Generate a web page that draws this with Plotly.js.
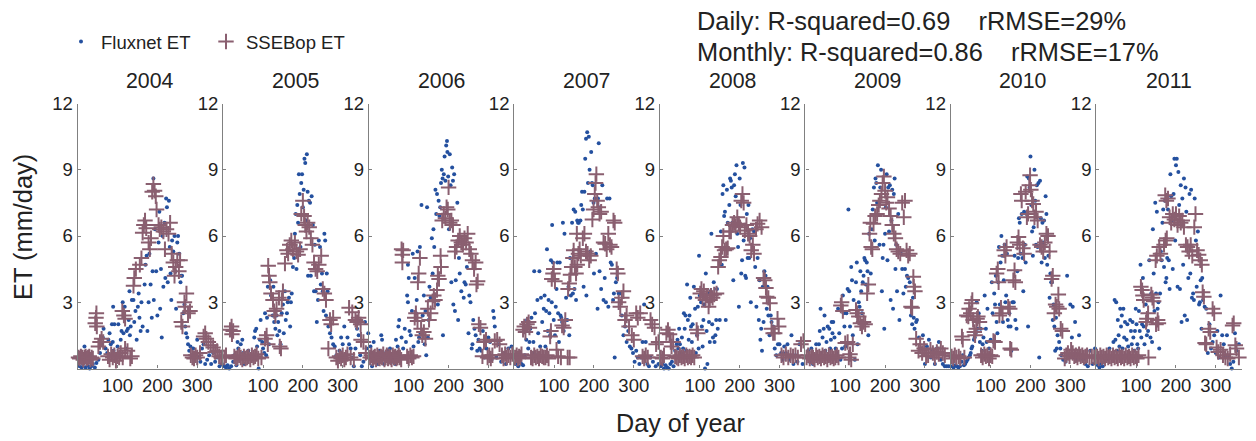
<!DOCTYPE html>
<html><head><meta charset="utf-8">
<script src="https://cdn.plot.ly/plotly-3.0.1.min.js"></script>
<style>html,body{margin:0;padding:0;background:#fff}</style></head>
<body><div id="c" style="width:1256px;height:441px"></div>
<script>
const years=[2004,2005,2006,2007,2008,2009,2010,2011];
const dayTicks=[100,200,300];
const etTicks=[3,6,9,12];
const flux2004=[[5,.1],[10,.05],[14,.2],[17,1],[20,.05],[25,.15],[30,0],[34,.1],[38,.2],[43,.05],[47,.25],[52,.4],[56,.7],[60,1.1],[63,1.4],[65,1.8],[70,.9],[74,.7],[77,1.3],[80,1.6],[83,1.1],[86,2],[88,1.2],[90,.8],[92,2],[89,2.8],[96,.6],[100,1],[102,2],[105,.7],[108,1.3],[110,1.7],[113,3],[115,1.6],[118,2.8],[121,.9],[123,1.7],[126,1.8],[128,2.2],[131,1.5],[133,1.9],[130,3.5],[136,3.1],[140,3.1],[142,2.1],[145,2.6],[148,1.3],[151,2.8],[153,3.4],[155,2.3],[158,1.7],[160,3],[163,1.9],[168,3.8],[170,4.7],[173,5.1],[175,1.7],[178,3],[180,5.2],[183,3.8],[186,2.3],[188,4.4],[191,3.1],[190,8.6],[194,6.3],[197,4.4],[200,2.4],[203,5.7],[205,7.1],[207,2.7],[209,4.5],[211,1.4],[213,6],[215,3.7],[218,6.6],[220,4.1],[222,7.7],[224,7.3],[226,3.9],[229,7.6],[231,5.5],[233,4.3],[235,3.1],[237,5.8],[240,5.3],[243,6],[245,4.4],[247,2.7],[250,5.7],[252,6],[255,5.2],[258,3.9],[260,4.2],[262,4.2],[265,2.5],[268,2.9],[270,1.9],[272,1.6],[275,1.4],[277,1.1],[280,.8],[283,1],[286,.6],[290,.9],[295,.7],[300,1.3],[303,.5],[308,.3],[312,.9],[316,1.1],[320,.2],[325,.4],[330,.6],[335,.2],[340,.7],[345,.3],[350,.5],[356,.1],[362,.2]];
const sse2004=[[2,.5],[5,.45],[8,.55],[11,.5],[14,.4],[17,.5],[20,.55],[23,.45],[26,.5],[29,.55],[32,.4],[35,.5],[38,.45],[44,2.05],[46,2.3],[47,2.5],[48,1.9],[52,1],[56,1.2],[60,1.35],[64,1.2],[76,.55],[80,.4],[84,.65],[88,.5],[92,.6],[96,.35],[100,.55],[104,.5],[108,.7],[113,.5],[112,2.6],[116,2.4],[119,2.25],[119,.9],[125,.8],[132,.45],[136,.55],[140,3.75],[142,4.1],[146,4.5],[156,4.7],[160,5],[163,6.15],[166,6.5],[169,6.7],[172,6.35],[178,5.7],[181,5.4],[184,5.9],[187,8],[190,8.35],[193,8.05],[196,7.8],[198,7.2],[203,6.5],[206,6.3],[210,6.4],[215,6.2],[219,5.4],[223,6.3],[228,6.1],[232,6.6],[236,5.2],[240,4.8],[243,4.2],[246,4.6],[250,4.9],[254,4.4],[257,4.9],[260,2.1],[263,1.9],[268,3],[270,2.8],[273,3.4],[277,2.5],[282,2.6],[284,.6],[288,.5],[292,.45],[296,.6],[300,.5],[307,.7],[316,1.45],[320,1.6],[323,1.35],[328,1.2],[334,1.05],[340,.95],[345,.75],[350,.8],[355,.55],[360,.5]];
const flux2005=[[3,.1],[7,.05],[11,.15],[15,0],[20,.1],[25,.3],[28,.6],[33,.15],[36,1.2],[38,.9],[41,.4],[44,1.1],[48,1.3],[50,.7],[53,.2],[60,.5],[63,.8],[70,.4],[78,1.4],[80,1.7],[83,1.8],[85,1],[87,.5],[89,0],[92,1.3],[94,2.2],[98,1.2],[100,.9],[103,.7],[105,2.5],[108,.6],[110,2.3],[112,3.7],[115,1.1],[118,4],[120,3.3],[124,2.4],[126,3.7],[128,2.1],[131,1.8],[134,2.4],[136,1.5],[138,2.1],[141,1.7],[144,1.1],[147,2.5],[150,2.9],[152,1.6],[155,3.5],[157,2.2],[160,2.5],[162,3],[165,3.2],[168,1.9],[170,3],[172,3.4],[175,4.6],[178,5],[180,6.1],[182,7],[184,4.5],[186,7.4],[188,6.6],[190,8.8],[192,7.9],[194,5.5],[196,8.4],[198,8.8],[200,7.3],[202,8.1],[204,9.5],[206,9.3],[208,6.7],[210,9.7],[212,8],[213,4.2],[215,7.6],[218,7.5],[220,4.2],[222,7.8],[225,6.5],[228,3.5],[230,5.6],[232,3.5],[235,2.1],[238,3.1],[240,5.8],[243,5.5],[245,3.8],[248,4.3],[250,3.5],[252,2.6],[254,6.1],[256,5.8],[258,2.4],[260,4.3],[262,3.5],[264,1.9],[268,1.6],[272,1.4],[276,1.1],[280,1],[284,.6],[288,.4],[292,.8],[296,1.4],[300,1.1],[304,1.9],[308,.6],[312,1.4],[316,1.1],[320,.9],[324,.5],[328,.1],[332,.9],[336,1.8],[340,1.5],[344,.6],[348,.1],[352,.3],[356,2.1],[360,.9],[364,1.6]];
const sse2005=[[3,.5],[7,.6],[17,1.75],[21,1.9],[22,1.55],[25,1.7],[28,.55],[32,.45],[36,.5],[40,.6],[44,.5],[48,.4],[52,.55],[56,.45],[60,.5],[64,.55],[68,.4],[72,.6],[76,.5],[80,.55],[84,.65],[88,.45],[96,.5],[105,1.35],[109,1.5],[112,1.1],[113,4.65],[115,4.2],[117,3.9],[120,3.4],[125,3.1],[128,2.6],[131,2.4],[134,2.7],[140,3.2],[142,1],[145,.9],[147,3.1],[150,3.5],[155,4.75],[160,5.35],[163,5.2],[167,5.6],[171,5.8],[175,5.4],[180,5.7],[184,5.3],[188,5.15],[193,5.4],[196,7],[200,7.6],[203,6.9],[206,6.5],[209,6.2],[212,6.6],[216,6.4],[220,5.9],[224,5.6],[228,4.8],[232,4.5],[236,4.4],[240,4.7],[246,5.1],[250,3.6],[254,3.4],[258,3.1],[264,.9],[268,2.2],[271,2],[276,2.3],[284,.5],[288,.35],[292,.55],[296,.45],[300,.6],[304,.4],[308,.5],[312,.65],[316,2.75],[320,.5],[324,2.55],[328,.4],[332,2.2],[336,2.1],[340,2.3],[345,2],[346,1.3],[352,1.2],[358,.7]];
const flux2006=[[4,1],[8,.1],[12,1.2],[15,.3],[19,.5],[23,.2],[27,.8],[31,1.5],[33,1.3],[36,.7],[38,.2],[42,.4],[46,.8],[50,.5],[53,.9],[58,.3],[62,.7],[66,.2],[68,1.3],[72,1],[74,1.9],[76,2.2],[79,.6],[82,1.4],[86,.9],[90,1.8],[93,1.2],[96,3.3],[98,3],[100,4.1],[98,4.7],[102,1.7],[105,1.5],[108,2.6],[110,5.2],[112,1],[115,4.1],[118,2.5],[120,3.1],[122,5.3],[124,1.2],[126,1.4],[128,5.5],[130,1.6],[132,7.4],[135,2.4],[138,3.3],[140,1.1],[142,2.6],[144,.6],[146,7.3],[148,1.4],[150,2.2],[152,3.7],[155,3.2],[158,5.9],[160,4.3],[162,6.3],[164,5.5],[167,8.1],[169,7],[171,7.9],[173,2.9],[175,7.6],[177,6.9],[179,7.3],[181,8.4],[183,9],[185,8.6],[186,1.5],[188,8.8],[190,9.6],[192,8.5],[194,10.1],[196,10.3],[197,9.8],[199,8.7],[201,6.3],[203,9.7],[205,8.3],[207,3.9],[209,9.1],[211,8.5],[212,2.9],[214,8.8],[216,2.6],[218,4],[222,7.5],[224,2.2],[226,5],[228,4.3],[232,3.5],[235,5.7],[238,3.2],[240,3.9],[243,3.8],[246,4.6],[250,1.6],[252,3.3],[255,3],[258,.9],[260,1.1],[262,2.2],[265,1.8],[268,1.5],[272,.8],[275,1.3],[278,.9],[282,.8],[286,1.7],[290,.5],[295,.9],[300,1.4],[304,1.2],[308,.4],[312,2.6],[314,2.3],[316,1.9],[320,.5],[326,1.1],[332,.3],[338,.7],[344,.2],[350,.9],[358,1]];
const sse2006=[[3,.5],[6,.6],[9,.45],[12,.5],[15,.55],[18,.4],[21,.6],[24,.5],[27,.45],[30,.55],[33,.5],[36,.65],[39,.4],[42,.5],[45,.6],[48,.45],[51,.55],[54,.5],[57,.4],[60,.6],[63,.5],[66,.55],[69,.45],[72,.5],[75,.6],[78,.5],[81,.4],[82,5.4],[84,5.15],[84,4.8],[86,5.35],[96,.55],[100,.45],[104,.6],[108,.5],[112,.55],[115,2.3],[118,2.5],[122,2.15],[123,3.9],[125,4.3],[128,5],[131,1.8],[134,1.5],[138,1.65],[142,1.35],[148,2.7],[151,2.2],[155,2.5],[160,3.05],[163,3.3],[166,3.1],[171,3.55],[173,4.2],[176,4.05],[180,5.1],[181,4.6],[184,6.7],[188,7],[192,6.8],[195,7.3],[198,7.2],[200,8.2],[203,6.6],[207,6.7],[211,6.5],[216,5.3],[220,5.5],[224,5.8],[228,6],[232,5.7],[236,5.6],[240,5.9],[244,5.7],[248,6.1],[252,5.4],[256,5.2],[260,4.9],[264,4.5],[268,4.8],[270,3.8],[273,3.95],[276,2],[280,1.85],[285,.55],[289,1.2],[294,1.3],[298,.5],[302,.6],[306,.45],[310,.6],[316,1.25],[322,1.3],[328,1.1],[334,.6],[338,.45],[342,.65],[346,.5],[350,.6],[355,.5],[360,.65]];
const flux2007=[[3,.2],[6,.5],[10,.1],[14,.3],[18,.2],[22,.15],[26,.6],[30,1.3],[32,2.2],[35,.9],[38,1.2],[40,1.8],[43,2.3],[46,.7],[48,1.2],[50,4.4],[52,2.5],[55,.6],[58,3.1],[60,1.6],[63,4.4],[65,1],[67,3.2],[70,2.1],[72,.5],[74,2.7],[76,3.3],[78,1],[80,2.6],[82,5.4],[84,1.7],[86,3.1],[88,2.5],[90,1.5],[92,4.9],[94,3],[95,6.5],[97,4.8],[99,2.2],[102,1.5],[104,2.8],[106,3.6],[108,4.8],[110,2.5],[112,1.2],[114,4.8],[116,2.4],[118,2.3],[120,2.1],[122,6.6],[124,1.7],[126,6.1],[128,2.2],[130,3.2],[133,2.2],[136,3.7],[138,1.5],[140,5],[142,3.3],[145,6.6],[147,3.4],[149,7.2],[151,3.6],[153,7.1],[155,3.1],[158,6.7],[160,6.6],[162,6.6],[164,5.3],[166,6.7],[168,7.4],[170,8],[172,7.2],[174,3.7],[176,8],[178,9.5],[180,10.4],[181,3.3],[183,10.7],[185,8.4],[187,10.5],[189,9],[191,5.3],[193,9.8],[195,8.4],[197,8.3],[199,7.5],[200,4.3],[202,7.7],[205,5.2],[209,2.7],[210,7.7],[212,10.2],[214,4.4],[216,7.3],[218,3.6],[221,8.3],[224,3.1],[227,4.1],[230,3],[233,7.7],[236,2.8],[239,7.7],[242,4.8],[245,4.7],[248,3.1],[250,3.4],[252,.5],[255,3.9],[258,4.1],[262,3.4],[265,3.4],[270,2.4],[274,1.5],[278,1.9],[282,1.2],[286,1.7],[290,1],[294,.9],[298,.7],[302,.3],[306,.8],[310,.5],[314,.2],[318,.5],[322,1.2],[326,2.9],[330,1.2],[334,.2],[338,.1],[342,.5],[348,.3],[355,.1],[362,.2]];
const sse2007=[[2,.5],[6,.6],[9,.45],[12,.55],[15,.5],[18,.65],[22,1.75],[25,1.9],[28,1.65],[32,2],[36,2.1],[38,1.85],[42,.5],[46,.45],[50,.6],[54,.5],[58,.55],[62,.45],[66,.6],[70,.55],[74,.5],[78,.5],[82,.6],[86,.45],[90,1.45],[92,1.7],[94,4.05],[97,4.3],[99,4.5],[102,3.95],[106,.85],[110,.55],[117,.5],[120,1.95],[124,1.85],[128,2.2],[134,.5],[139,.5],[135,3.6],[138,3.85],[141,4.25],[144,4.6],[147,5],[149,5.35],[152,4.6],[155,4.3],[158,4.7],[157,6.1],[161,5.2],[164,5.4],[167,5.1],[172,5.9],[176,6.1],[180,5.3],[184,5.2],[188,4.9],[192,5.1],[196,6.75],[199,7.2],[202,7.9],[204,8.4],[206,8.8],[208,7.6],[211,7.3],[214,7],[218,7.1],[224,5.7],[228,5.65],[232,5.4],[236,6.1],[240,5.6],[244,5.5],[249,6.7],[252,6.6],[257,4.5],[260,4.3],[262,3],[266,2.8],[270,3.2],[274,3.5],[278,2.2],[282,2.4],[288,1.9],[295,1.5],[300,1.3],[306,2.5],[310,2.3],[316,2.5],[322,.55],[326,.45],[330,.6],[335,.5],[342,2.2],[346,2],[352,1.85],[356,1.1],[362,1.2]];
const flux2008=[[2,.1],[6,.2],[10,0],[14,.15],[18,.05],[22,0],[26,.2],[30,.3],[34,.1],[38,.8],[42,1.1],[44,1.3],[46,.9],[48,1.8],[50,1.1],[53,.7],[55,1.4],[58,.9],[60,2.5],[62,1.8],[64,2.4],[66,.8],[68,3.8],[70,2.2],[72,1.3],[74,2.4],[76,3.2],[78,1.9],[80,1.2],[82,2],[85,3.7],[88,2.7],[90,.7],[93,1.5],[95,2.8],[97,.9],[98,5.1],[100,3.3],[103,3],[105,1.9],[107,1],[109,2.2],[111,2.9],[113,0],[115,4.3],[117,1.7],[119,.2],[121,3.4],[123,2.1],[125,1.2],[127,3.5],[129,6.1],[131,2],[133,1.4],[135,3.9],[137,1.2],[139,1.5],[141,2.2],[143,3.6],[145,1.8],[150,2.2],[153,6.2],[155,4.7],[157,7.9],[159,8.3],[161,6.9],[163,7.1],[165,2.2],[168,8.1],[170,6.6],[172,5.4],[174,7.4],[176,8.6],[178,8.5],[180,8.2],[182,6.6],[184,4],[186,8.3],[188,8.8],[190,7.8],[192,9.2],[194,6.1],[196,5.5],[198,2.8],[200,8.6],[202,7.4],[204,4.3],[206,4.9],[208,9.3],[210,5.8],[212,9.1],[214,4.2],[216,4.1],[218,7],[220,5],[222,7.4],[224,5],[226,5.9],[228,3],[232,6.3],[236,6.2],[239,4.6],[242,2.8],[245,5],[248,2.2],[250,4],[252,1.3],[254,1.8],[256,.8],[258,3.7],[260,2.1],[262,4.4],[265,4.2],[268,2.7],[270,3.7],[272,2.4],[275,1.5],[278,2.4],[280,2.1],[284,1.9],[288,.9],[292,.6],[296,1.1],[300,1.1],[304,.7],[308,.4],[312,1],[316,.7],[320,1.1],[325,.4],[330,1.5],[335,.2],[340,.6],[345,.3],[350,1.1],[358,.2]];
const sse2008=[[2,.5],[6,.45],[10,.6],[16,1.6],[20,1.75],[24,1.55],[27,1.2],[29,1],[33,1.2],[38,.55],[42,.5],[46,.45],[50,.6],[54,.5],[58,.55],[62,.45],[66,.6],[70,.5],[74,.55],[78,.5],[82,.6],[86,.5],[92,1.75],[95,1.6],[101,3.4],[104,3.6],[107,3.2],[110,3.5],[114,3.1],[118,3.3],[122,2.8],[125,3.1],[128,3.3],[132,3.2],[136,3.35],[142,3.4],[146,4.6],[149,4.9],[153,5.05],[156,5.5],[159,6],[162,5.35],[166,5.4],[170,5.45],[174,6.2],[178,6.2],[182,6.5],[186,6.6],[190,6.45],[194,6.85],[198,6.55],[201,6.4],[204,7.6],[207,7.9],[210,7.5],[213,6.25],[217,6.5],[221,6.1],[225,6],[229,5.35],[233,5.6],[236,5.2],[241,6.3],[245,6.55],[250,6.7],[255,6.4],[260,4.1],[263,4],[266,3.65],[268,3.25],[272,3.2],[276,2.95],[280,1.8],[284,1.6],[288,1.6],[295,2.25],[298,1.9],[305,.6],[310,.5],[316,.65],[322,.5],[328,.6],[334,.55],[340,.6],[346,.5],[354,1.1],[360,1.25]];
const flux2009=[[3,.5],[7,.8],[11,.3],[15,.9],[19,.2],[23,.6],[27,1.1],[30,.4],[34,1.1],[36,1.7],[38,2.7],[40,.7],[43,1.4],[46,1.8],[48,2.4],[50,.8],[53,1.2],[56,1.9],[58,.4],[60,1.8],[62,.9],[64,1.3],[66,2.1],[68,1.6],[70,2.1],[73,1.4],[76,.9],[79,.7],[82,2.7],[85,1.6],[88,.4],[92,.9],[94,3.3],[96,2.5],[98,1.9],[100,1],[103,2.5],[106,3.6],[108,7.2],[110,3.5],[112,1.9],[115,4.6],[117,4],[119,1.5],[121,3.1],[124,.4],[127,3.9],[129,4.8],[131,1.1],[134,3],[136,2.8],[138,4.4],[140,3.5],[142,2.5],[144,3.9],[146,4.2],[148,5],[150,4.9],[152,3.8],[154,4.8],[156,4.4],[158,1.5],[160,6.1],[164,4.3],[167,6.3],[169,7.2],[172,8.2],[174,5.8],[176,8.6],[178,8.4],[180,7.5],[182,9.2],[184,7.5],[186,5.6],[188,8.2],[190,9],[192,3.5],[194,5],[196,5.6],[198,1.8],[200,6.1],[202,7.3],[204,8.8],[206,4.9],[208,8.2],[210,6.2],[212,8.3],[214,3.1],[216,6.7],[218,8.1],[220,2.7],[222,7.9],[224,8.6],[226,4.5],[228,5.6],[230,3.5],[233,7],[236,2.2],[240,5.2],[243,4.5],[246,3.4],[250,4.5],[252,3.7],[255,4.2],[258,4.1],[262,3.9],[265,2.4],[268,2],[270,3.2],[272,2.3],[274,1.8],[278,2.1],[280,2.2],[285,1.4],[290,.9],[295,1.5],[300,.2],[305,1],[310,1.3],[315,.5],[320,.8],[325,.2],[330,.9],[335,1.2],[340,.4],[345,.2],[350,.1],[355,.1],[360,.1]];
const sse2009=[[3,.5],[7,.6],[11,.45],[15,.55],[19,.5],[23,.4],[27,.6],[31,.5],[35,.55],[39,.45],[43,.6],[47,.5],[51,.55],[55,.4],[59,.6],[63,.5],[67,.55],[71,.45],[75,.5],[79,.6],[83,.5],[89,2.85],[91,3],[94,2.6],[100,1.15],[106,1.2],[109,.5],[112,.65],[115,.4],[119,1.1],[127,2.65],[130,2.5],[134,2.35],[138,2.05],[142,1.9],[146,2.1],[150,2],[155,3.4],[158,3.8],[161,6.1],[163,6.6],[165,5.5],[168,5.4],[171,6.55],[175,6.9],[180,7],[184,7.4],[187,7.6],[191,7.9],[194,8.4],[197,8.7],[200,8.05],[203,7.5],[206,7.75],[210,7.25],[214,6.9],[218,6.5],[222,6.1],[226,5.9],[229,5.4],[233,5.3],[238,5.2],[243,7.5],[247,6.85],[250,7.6],[254,5.35],[258,5.1],[262,5.2],[265,2.8],[268,2.75],[271,4.15],[272,3.7],[275,3.5],[278,1.35],[284,.8],[288,1.1],[293,.7],[298,.9],[303,.55],[308,.6],[314,.85],[320,.7],[325,.5],[330,.75],[335,.65],[340,.9],[345,.7],[350,.6]];
const flux2010=[[3,.1],[7,.05],[11,.15],[15,.1],[19,.05],[23,.1],[27,.3],[30,.6],[33,.15],[36,.2],[39,.3],[42,.4],[45,.5],[48,.6],[50,.7],[52,.9],[54,1],[58,1.3],[60,1.4],[62,1.6],[65,3],[67,1.8],[70,2.5],[73,1.2],[75,1.8],[78,.8],[80,1.1],[82,1.4],[85,3.3],[88,1.8],[90,1.2],[92,2.7],[96,.9],[100,1.3],[103,3.9],[105,2.5],[107,1.2],[109,3.4],[111,2.9],[113,4.2],[115,2.1],[117,1.6],[119,3.9],[121,5.5],[123,2.9],[125,4.8],[127,6],[129,5.1],[131,2.1],[133,4],[135,5.6],[137,3],[139,3.3],[141,5.2],[143,2.2],[145,1.9],[147,2.5],[150,1.9],[152,.8],[155,3],[158,3],[160,5.1],[162,2.2],[165,1.8],[167,4.4],[169,5],[171,6.8],[173,6.6],[175,5.2],[178,7],[180,5],[182,3.5],[184,7.1],[186,5.6],[188,4.8],[190,7],[192,8.7],[194,1.9],[196,8.6],[198,8.2],[200,9.6],[202,7.4],[204,6.2],[206,5.1],[208,6.4],[210,9],[212,7.6],[214,5.6],[216,8.3],[218,5.5],[220,8.4],[222,.5],[224,8.5],[226,6.8],[228,4.8],[230,6.6],[232,5.7],[234,6.7],[236,5],[238,7.8],[240,7],[242,4.7],[245,5.1],[248,3.2],[250,4.3],[252,3.9],[254,3.9],[256,2.2],[258,2.9],[260,1.9],[262,.8],[264,2.3],[266,.9],[268,1.5],[272,1.2],[275,.9],[278,.6],[282,.4],[288,.3],[292,4.2],[296,.6],[300,2.9],[304,1.4],[306,2.8],[310,.5],[312,2.1],[316,.4],[322,1.5],[326,.6],[332,.4],[338,.2],[344,.1],[350,.8],[356,.2],[362,.9]];
const sse2010=[[2,.55],[6,.45],[10,.6],[14,.5],[20,.55],[24,.45],[28,1.45],[30,1.3],[34,.5],[40,2.4],[44,2.35],[46,2.7],[50,2.5],[52,2.95],[54,3.1],[56,2.2],[59,1.65],[61,1.5],[64,1.8],[66,2.25],[68,2.35],[72,2.1],[76,.6],[80,.5],[84,.65],[88,.55],[92,.6],[96,.45],[100,.6],[104,.55],[107,1.25],[111,1.2],[115,4.3],[118,4.5],[120,3.9],[122,2.4],[126,2.75],[130,2.5],[134,5.35],[137,5.1],[140,5.5],[144,2.8],[148,2.7],[149,.9],[152,.85],[157,4],[160,4.45],[162,3.9],[167,5.7],[170,5.95],[173,5.6],[176,7.9],[178,7.6],[181,5.45],[184,5.2],[188,8],[191,6.85],[194,7],[197,8.3],[199,8.75],[201,8.1],[204,7.6],[207,7.45],[210,6.85],[214,7.1],[218,6.7],[224,5.6],[228,5.5],[232,5.3],[236,5.7],[240,6.1],[244,6],[248,5.3],[253,4.05],[256,4.2],[260,2.5],[263,2.9],[266,2.8],[270,3.35],[272,2.7],[276,1.8],[280,1.7],[286,.45],[290,.6],[294,.7],[298,.55],[302,.85],[306,.7],[310,.55],[314,.6],[318,.5],[322,.65],[326,.55],[330,.6],[334,.5],[338,.55],[342,.6],[348,.5],[354,.55],[360,.5]];
const flux2011=[[4,.15],[8,.05],[12,.2],[16,.1],[20,.3],[25,.4],[30,.6],[33,.9],[38,.5],[43,1.2],[46,3.1],[48,1.3],[50,3],[52,.8],[54,2.2],[56,1.5],[58,1],[60,2.7],[62,1.9],[64,2.4],[66,.9],[68,2.7],[70,1.4],[72,2.1],[74,.6],[76,1.3],[78,2],[80,1],[82,.7],[85,2.2],[87,1.7],[89,1.1],[91,2.1],[93,1.4],[95,.8],[97,1.7],[99,2.7],[101,2],[103,1.1],[105,.9],[107,2.6],[109,1.7],[111,4.7],[113,1.4],[115,2],[117,4.1],[119,1.9],[121,1.1],[124,2.9],[127,1.5],[130,1.7],[133,4.9],[136,1.4],[138,3.4],[140,1.2],[142,6.3],[144,4.3],[146,2.6],[148,7.5],[150,3.4],[152,7.1],[154,2.7],[156,3],[158,.9],[160,3.4],[162,5.3],[164,4.9],[166,6.6],[168,7.2],[170,4.6],[172,7.6],[174,3.9],[176,4.1],[178,5],[180,7.2],[182,4.9],[184,3.6],[186,8.8],[188,7.8],[190,6.7],[192,4.5],[194,7.9],[196,9.5],[198,5.8],[200,9.2],[202,9.5],[204,3.7],[206,8.9],[208,7.4],[210,3.6],[212,8.3],[214,2.1],[216,7.7],[218,4.7],[220,8.6],[222,2.4],[224,8.2],[226,7.1],[228,2.2],[231,4.1],[234,7.9],[236,4.3],[238,8.1],[240,3.2],[243,3.4],[245,3.1],[247,7.7],[250,5.8],[252,3.7],[255,6.2],[258,2.9],[260,3],[262,4],[264,1.8],[266,4.1],[268,3.1],[272,2.8],[276,2.7],[280,.7],[284,2],[288,.9],[292,1.2],[296,1.5],[300,.7],[304,1.7],[308,.5],[312,3.3],[316,1.5],[320,1.1],[324,.6],[328,1.5],[332,.5],[336,.2],[340,0],[344,.3],[348,1.6],[352,.8],[358,1.1]];
const sse2011=[[2,.55],[6,.45],[10,.6],[14,.5],[18,.55],[22,.45],[26,.6],[30,.5],[34,.55],[38,.45],[42,.6],[46,.5],[50,.55],[54,.45],[58,.6],[62,.5],[66,.55],[70,.45],[74,.6],[78,.5],[82,.55],[86,.45],[90,.6],[94,.5],[98,.55],[102,.45],[106,.6],[112,3.7],[115,3.55],[117,3.3],[119,3.1],[125,2.1],[127,2.25],[130,2.5],[131,.5],[138,3.35],[141,3.2],[144,3.05],[150,2],[154,2.2],[156,2.05],[149,4.9],[152,5.1],[158,5.5],[161,5.2],[170,5.6],[174,5.8],[177,5.9],[173,7.85],[176,7.6],[180,7.7],[184,6.85],[188,6.6],[192,7],[196,6.75],[200,7],[204,6.5],[208,6.9],[212,6.6],[216,6.7],[220,6.4],[225,5.6],[229,5.5],[233,5.3],[237,5.6],[241,5.1],[246,6.4],[249,7],[253,5.35],[257,5.15],[261,4.9],[265,4.7],[267,3.45],[270,3.25],[273,1.15],[276,1.1],[282,1.8],[286,1.65],[292,2.7],[296,2.5],[302,.95],[306,.75],[312,.85],[318,.6],[324,.5],[330,.45],[336,.65],[342,1.95],[345,2.05],[349,1.05],[352,.9],[358,.5]];
const fluxByYear=[flux2004,flux2005,flux2006,flux2007,flux2008,flux2009,flux2010,flux2011];
const sseByYear=[sse2004,sse2005,sse2006,sse2007,sse2008,sse2009,sse2010,sse2011];

const FONT='"Liberation Sans",Arial,sans-serif', INK='#222';
const W=1256,H=441,panelLeft=[77.7,223.2,368.9,514.3,660,805.4,950.8,1096.3],pw=145.4,plotTop=103.5,plotBot=368.5;
const data=[],layout={width:W,height:H,margin:{l:0,r:0,t:0,b:0},paper_bgcolor:'#fff',plot_bgcolor:'rgba(0,0,0,0)',font:{family:FONT,color:INK},
 showlegend:true,legend:{orientation:'h',x:61/W,y:1-23/H,xanchor:'left',yanchor:'top',entrywidth:100,entrywidthmode:'pixels',font:{size:18.5,color:INK},bgcolor:'rgba(0,0,0,0)',itemsizing:'trace'},annotations:[]};
years.forEach((y,i)=>{
 const s=i?String(i+1):'';
 data.push({type:'scatter',mode:'markers',name:'Fluxnet ET',showlegend:i===0,cliponaxis:false,x:fluxByYear[i].map(p=>p[0]),y:fluxByYear[i].map(p=>p[1]),xaxis:'x'+s,yaxis:'y'+s,marker:{color:'#24509f',size:4}});
 data.push({type:'scatter',mode:'markers',name:'SSEBop ET',showlegend:i===0,cliponaxis:false,x:sseByYear[i].map(p=>p[0]),y:sseByYear[i].map(p=>p[1]),xaxis:'x'+s,yaxis:'y'+s,marker:{symbol:'cross-thin',size:11,line:{color:'#8a5f70',width:2}}});
 layout['xaxis'+s]={domain:[panelLeft[i]/W,(panelLeft[i]+pw)/W],range:[0,365],anchor:'y'+s,tickvals:dayTicks,ticktext:dayTicks.map(String),ticks:'inside',ticklen:3,tickcolor:'#808080',showline:true,linecolor:'#808080',linewidth:1.3,showgrid:false,zeroline:false,tickfont:{size:18.5,color:INK,family:FONT}};
 layout['yaxis'+s]={domain:[1-plotBot/H,1-plotTop/H],range:[0,12],anchor:'x'+s,tickvals:etTicks,ticktext:etTicks.map(String),ticks:'inside',ticklen:3,tickcolor:'#808080',showline:true,linecolor:'#808080',linewidth:1.3,showgrid:false,zeroline:false,tickfont:{size:18.5,color:INK,family:FONT}};
 layout.annotations.push({text:String(y),xref:'paper',yref:'paper',x:(panelLeft[i]+72.5)/W,y:1-81.5/H,showarrow:false,xanchor:'center',yanchor:'middle',font:{size:21.3,family:FONT,color:INK}});
});
layout.annotations.push(
 {text:'ET (mm/day)',xref:'paper',yref:'paper',x:23/W,y:1-227/H,textangle:-90,showarrow:false,xanchor:'center',yanchor:'middle',font:{size:25.4,family:FONT,color:INK}},
 {text:'Day of year',xref:'paper',yref:'paper',x:680/W,y:1-423/H,showarrow:false,xanchor:'center',yanchor:'middle',font:{size:25.2,family:FONT,color:INK}},
 {text:'Daily: R-squared=0.69    rRMSE=29%',xref:'paper',yref:'paper',x:695/W,y:1-21/H,showarrow:false,xanchor:'left',yanchor:'middle',font:{size:25.4,family:FONT,color:INK}},
 {text:'Monthly: R-squared=0.86    rRMSE=17%',xref:'paper',yref:'paper',x:695/W,y:1-52/H,showarrow:false,xanchor:'left',yanchor:'middle',font:{size:25.4,family:FONT,color:INK}}
);
Plotly.newPlot('c',data,layout,{displayModeBar:false,responsive:false});
</script></body></html>
